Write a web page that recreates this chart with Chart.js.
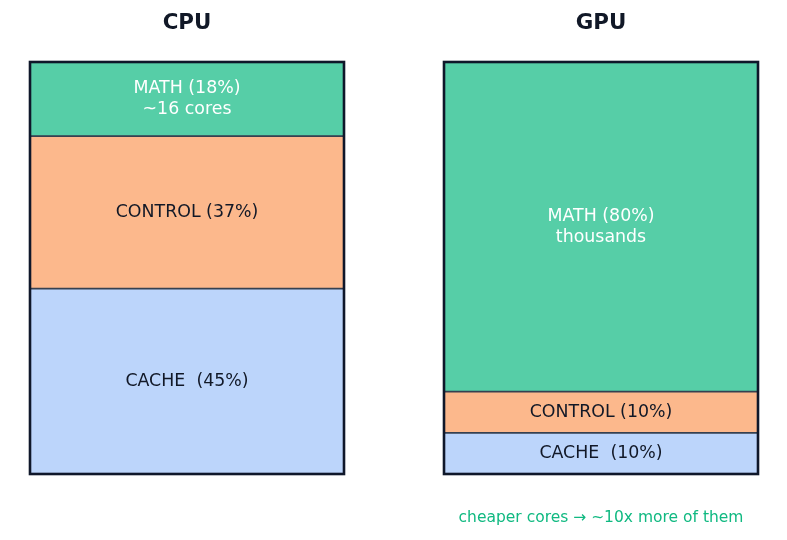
<!DOCTYPE html>
<html>
<head>
<meta charset="utf-8">
<script src="https://cdn.jsdelivr.net/npm/chart.js@4"></script>
<style>
  html, body { margin: 0; padding: 0; background: #fff; }
  #wrap { width: 787px; height: 540px; position: relative; }
</style>
</head>
<body>
<div id="wrap"><canvas id="myChart"></canvas></div>
<script>
const categories = ['CPU', 'GPU'];
const cacheShare = [45, 10];
const controlShare = [37, 10];
const mathShare = [18, 80];
const mathNotes = ['~16 cores', 'thousands'];
const footNote = 'cheaper cores \u2192 ~10x more of them';

const FONT = '"DejaVu Sans", sans-serif';

// text inside each segment, titles above, note below
const labelPlugin = {
  id: 'labels',
  afterDatasetsDraw(chart) {
    const ctx = chart.ctx;
    const x = chart.scales.x;
    const y = chart.scales.y;
    ctx.save();
    ctx.textAlign = 'center';
    ctx.textBaseline = 'middle';

    chart.data.datasets.forEach((ds, di) => {
      const meta = chart.getDatasetMeta(di);
      meta.data.forEach((bar, i) => {
        const cy = (bar.y + bar.base) / 2;
        const lines = ds.labelText(i);
        ctx.fillStyle = ds.textColor;
        ctx.font = '17.4px ' + FONT;
        const lh = 21;
        lines.forEach((t, k) => {
          ctx.fillText(t, bar.x, cy + (k - (lines.length - 1) / 2) * lh);
        });
      });
    });

    // outer frame around each column
    const first = chart.getDatasetMeta(0).data;
    first.forEach((bar, i) => {
      const w = bar.width;
      ctx.strokeStyle = '#0f172a';
      ctx.lineWidth = 2.6;
      ctx.strokeRect(bar.x - w / 2, y.getPixelForValue(100), w, y.getPixelForValue(0) - y.getPixelForValue(100));
    });

    // column titles
    ctx.fillStyle = '#111827';
    ctx.font = 'bold 21.4px ' + FONT;
    categories.forEach((c, i) => {
      ctx.fillText(c, x.getPixelForValue(i), 23);
    });

    // note under GPU column
    ctx.fillStyle = '#10b981';
    ctx.font = '15.5px ' + FONT;
    ctx.fillText(footNote, x.getPixelForValue(1), 518);
    ctx.restore();
  }
};

new Chart(document.getElementById('myChart'), {
  type: 'bar',
  data: {
    labels: categories,
    datasets: [
      {
        label: 'CACHE',
        data: cacheShare,
        backgroundColor: '#bcd5fb',
        textColor: '#111827',
        labelText: i => ['CACHE  (' + cacheShare[i] + '%)']
      },
      {
        label: 'CONTROL',
        data: controlShare,
        backgroundColor: '#fcb88c',
        textColor: '#111827',
        labelText: i => ['CONTROL (' + controlShare[i] + '%)']
      },
      {
        label: 'MATH',
        data: mathShare,
        backgroundColor: '#56cea7',
        textColor: '#ffffff',
        labelText: i => ['MATH (' + mathShare[i] + '%)', mathNotes[i]]
      }
    ].map(ds => Object.assign(ds, {
      borderColor: '#374151',
      borderWidth: 1.2,
      borderSkipped: false,
      barThickness: 314,
      clip: false
    }))
  },
  options: {
    responsive: true,
    maintainAspectRatio: false,
    animation: false,
    layout: { padding: { left: 187, right: 186, top: 62, bottom: 66 } },
    plugins: {
      legend: { display: false },
      tooltip: { enabled: false }
    },
    scales: {
      x: { stacked: true, offset: false, display: false },
      y: { stacked: true, min: 0, max: 100, display: false }
    }
  },
  plugins: [labelPlugin]
});
</script>
</body>
</html>
